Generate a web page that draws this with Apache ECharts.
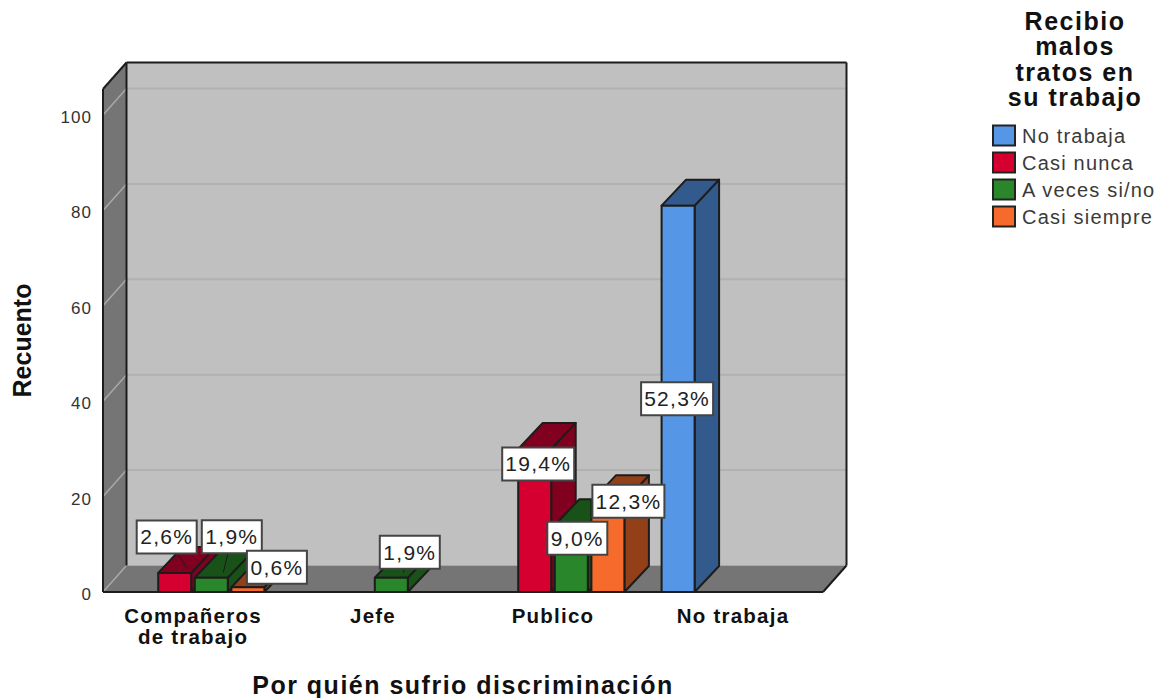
<!DOCTYPE html>
<html><head><meta charset="utf-8">
<style>html,body{margin:0;padding:0;background:#fff}#c{width:1167px;height:698px}
svg text{letter-spacing:.06em}
svg text[transform*="0,-1"]{letter-spacing:0}</style>
<script src="https://cdn.jsdelivr.net/npm/echarts@6/dist/echarts.min.js"></script></head>
<body><div id="c"></div>
<script>
const categories = ['Compañeros\nde trabajo', 'Jefe', 'Publico', 'No trabaja'];
const seriesNames = ['No trabaja', 'Casi nunca', 'A veces si/no', 'Casi siempre'];
const noTrabaja = [null, null, null, 81];
const casiNunca = [4, null, 30, null];
const aVeces = [3, 3, 14, null];
const casiSiempre = [1, null, 19, null];
const pctNoTrabaja = [null, null, null, '52,3%'];
const pctCasiNunca = ['2,6%', null, '19,4%', null];
const pctAVeces = ['1,9%', '1,9%', '9,0%', null];
const pctCasiSiempre = ['0,6%', null, '12,3%', null];
const yTicks = [0, 20, 40, 60, 80, 100];

// label-box placement relative to the bar's front top centre (px)
const nudgeNoTrabaja = [null, null, null, [-1, 193]];
const nudgeCasiNunca = [[-8, -36], null, [3.5, 15], null];
const nudgeAVeces = [[20.5, -41], [18.5, -25.5], [6, 13], null];
const nudgeCasiSiempre = [[29, -20], null, [20.5, 0], null];

const values = [noTrabaja, casiNunca, aVeces, casiSiempre];
const pcts = [pctNoTrabaja, pctCasiNunca, pctAVeces, pctCasiSiempre];
const nudges = [nudgeNoTrabaja, nudgeCasiNunca, nudgeAVeces, nudgeCasiSiempre];
const fronts = ['#5596E6', '#D5002F', '#29862A', '#F66B2B'];
const sides = ['#335A8C', '#82001F', '#195218', '#934019'];
const EDGE = '#1c1c1c', WALL = '#C0C0C0', DARKWALL = '#757575';
const FONT = '"Liberation Sans", Arial, sans-serif';
const WDX = 23.5, WDY = 26.5, BDX = 24.5, BDY = 26, BAR_W = 33, SLOT_RATIO = 36.6 / 180;

function poly(pts, fill, stroke, lw) {
  return { type: 'polygon', shape: { points: pts },
    style: { fill, stroke: stroke || 'none', lineWidth: lw || 0, lineJoin: 'round' } };
}
function seg(x1, y1, x2, y2, stroke, lw) {
  return { type: 'line', shape: { x1, y1, x2, y2 }, style: { stroke, lineWidth: lw } };
}

function renderWalls(params, api) {
  const c = params.coordSys, L = c.x, R = c.x + c.width, T = c.y, B = c.y + c.height;
  const kids = [
    poly([[L + WDX, T - WDY], [R + WDX, T - WDY], [R + WDX, B - WDY], [L + WDX, B - WDY]], WALL),
    poly([[L, T], [L + WDX, T - WDY], [L + WDX, B - WDY], [L, B]], DARKWALL),
    poly([[L, B], [L + WDX, B - WDY], [R + WDX, B - WDY], [R, B]], DARKWALL)
  ];
  yTicks.forEach(v => {
    const y = api.coord([0, v])[1];
    if (v > 0) kids.push(seg(L + WDX, y - WDY, R + WDX, y - WDY, '#B1B1B1', 2));
    kids.push(seg(L, y, L + WDX, y - WDY, '#A9A9A9', 1.5));
  });
  kids.push(seg(L, T, L, B, EDGE, 2), seg(L, T, L + WDX, T - WDY, EDGE, 2),
    seg(L + WDX, T - WDY, L + WDX, B - WDY, EDGE, 2),
    seg(L + WDX, T - WDY, R + WDX, T - WDY, EDGE, 2),
    seg(R + WDX, T - WDY, R + WDX, B - WDY, EDGE, 2),
    seg(R + WDX, B - WDY, R, B, EDGE, 2), seg(L, B, R, B, EDGE, 2));
  return { type: 'group', children: kids };
}

function barGeom(s, api) {
  const p = api.coord([api.value(0), api.value(1)]);
  const base = api.coord([api.value(0), 0])[1];
  const slot = api.size([1, 0])[0] * SLOT_RATIO;
  const cx = p[0] + (s - 1.5) * slot;
  return { cx, top: p[1], base };
}
function makeBarRender(s) {
  return function (params, api) {
    const { cx, top, base } = barGeom(s, api);
    const l = cx - BAR_W / 2, r = cx + BAR_W / 2;
    return { type: 'group', children: [
      poly([[r, top], [r + BDX, top - BDY], [r + BDX, base - BDY], [r, base]], sides[s], EDGE, 2),
      poly([[l, top], [l + BDX, top - BDY], [r + BDX, top - BDY], [r, top]], sides[s], EDGE, 2),
      poly([[l, top], [r, top], [r, base], [l, base]], fronts[s], EDGE, 2)
    ] };
  };
}
function makeLabelRender(s) {
  return function (params, api) {
    const { cx, top } = barGeom(s, api);
    const i = api.value(0), txt = pcts[s][i], nd = nudges[s][i];
    const bx = cx + nd[0], by = top + nd[1];
    const w = txt.length > 4 ? 72 : 60, h = 33;
    const kids = [];
    if (nd[1] < 0) kids.push(seg(bx, by, cx + 12, top - 5, EDGE, 1));
    kids.push({ type: 'rect', shape: { x: bx - w / 2, y: by - h / 2, width: w, height: h },
      style: { fill: '#fff', stroke: '#444', lineWidth: 2 } });
    kids.push({ type: 'text', x: bx, y: by,
      style: { text: txt, fill: '#222', font: '21px ' + FONT, align: 'center', verticalAlign: 'middle' } });
    return { type: 'group', children: kids };
  };
}

const series = [{ type: 'custom', name: 'walls', z: 1, silent: true, renderItem: renderWalls,
  data: [[0, 0]], encode: { x: 0, y: 1 } }];
values.forEach((arr, s) => {
  const data = [];
  arr.forEach((v, i) => { if (v !== null) data.push([i, v]); });
  series.push({ type: 'custom', name: seriesNames[s], z: 2, renderItem: makeBarRender(s), data,
    encode: { x: 0, y: 1 }, itemStyle: { color: fronts[s] } });
});
values.forEach((arr, s) => {
  const data = [];
  arr.forEach((v, i) => { if (v !== null) data.push([i, v]); });
  series.push({ type: 'custom', name: 'labels' + s, z: 5, renderItem: makeLabelRender(s), data,
    encode: { x: 0, y: 1 } });
});

const chart = echarts.init(document.getElementById('c'), null, { renderer: 'svg' });
chart.setOption({
  animation: false,
  backgroundColor: '#fff',
  textStyle: { fontFamily: FONT },
  title: { text: 'Recibio\nmalos\ntratos en\nsu trabajo', left: 1075, top: 8, padding: 0, textAlign: 'center',
    textStyle: { fontFamily: FONT, fontWeight: 'bold', fontSize: 25, lineHeight: 25.5, color: '#111' } },
  legend: { data: seriesNames, orient: 'vertical', left: 992, top: 124.5, padding: 0, itemWidth: 22, itemHeight: 20, itemGap: 5,
    icon: 'rect', selectedMode: false, itemStyle: { borderColor: '#222', borderWidth: 2 },
    textStyle: { fontFamily: FONT, fontSize: 20, lineHeight: 20, color: '#3a3a3a', padding: [0, 0, 0, 2] } },
  grid: { left: 103, right: 344, top: 89, bottom: 106, outerBoundsMode: 'none' },
  xAxis: { type: 'category', data: categories, name: 'Por quién sufrio discriminación', nameLocation: 'middle',
    nameGap: 93, nameTextStyle: { fontFamily: FONT, fontWeight: 'bold', fontSize: 25, color: '#111', verticalAlign: 'middle' },
    axisLine: { show: false }, axisTick: { show: false },
    axisLabel: { interval: 0, margin: 13, fontFamily: FONT, fontWeight: 'bold', fontSize: 20.5, lineHeight: 21, color: '#111' } },
  yAxis: { type: 'value', min: 0, max: 105.45, interval: 20, name: 'Recuento', nameLocation: 'middle', nameGap: 81,
    nameTextStyle: { fontFamily: FONT, fontWeight: 'bold', fontSize: 25, color: '#111', verticalAlign: 'middle' },
    axisLine: { show: false }, axisTick: { show: false }, splitLine: { show: false },
    axisLabel: { margin: 11, showMaxLabel: false,
      rich: { t: { fontFamily: FONT, fontSize: 17, color: '#333', padding: [5, 0, 0, 0] } },
      formatter: v => yTicks.includes(v) ? '{t|' + v + '}' : '' } },
  series
});
</script></body></html>
